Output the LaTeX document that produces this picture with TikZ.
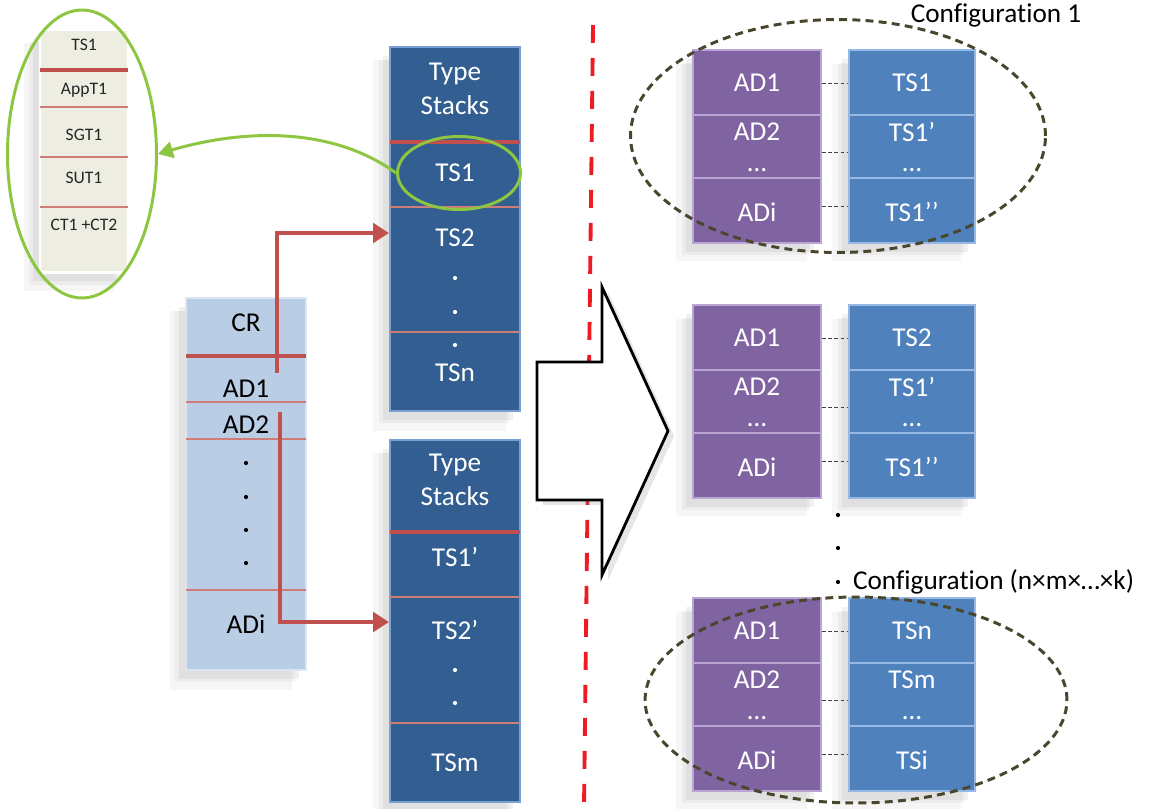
\documentclass[tikz,border=0pt]{standalone}
\usepackage{fontspec}
\setmainfont{Carlito}[Ligatures={TeX,NoCommon}]
\usetikzlibrary{shadows,shapes.geometric,arrows.meta}

\definecolor{paper}{RGB}{238,237,226}
\definecolor{crblue}{RGB}{185,205,229}
\definecolor{tsblue}{RGB}{50,94,145}
\definecolor{tsedge}{RGB}{120,160,210}
\definecolor{stackred}{RGB}{192,80,77}
\definecolor{ringgreen}{RGB}{141,198,65}
\definecolor{adpurple}{RGB}{128,100,162}
\definecolor{adedge}{RGB}{185,165,212}
\definecolor{cfgblue}{RGB}{79,129,189}
\definecolor{cfgedge}{RGB}{150,185,230}
\definecolor{olive}{RGB}{74,69,45}
\definecolor{cutred}{RGB}{237,28,36}

\tikzset{
  stack/.style={rectangle,inner sep=0pt,line width=1.2pt,
    drop shadow={shadow xshift=-.3cm,shadow yshift=-.32cm,shadow scale=1.02,opacity=.07},
    drop shadow={shadow xshift=-.22cm,shadow yshift=-.25cm,opacity=.09},
    drop shadow={shadow xshift=-.14cm,shadow yshift=-.18cm,opacity=.11}},
  lbl/.style={font=\fontsize{15.5}{19}\selectfont,align=center,inner sep=1pt},
  tinylbl/.style={font=\fontsize{10}{12}\selectfont,inner sep=1pt,text=black!85},
  thinrule/.style={stackred!75,line width=.6pt},
  thickrule/.style={stackred,line width=2.4pt},
  link/.style={stackred,line width=2.8pt,-{Triangle[length=9pt,width=11pt]}},
  ring/.style={ellipse,draw=ringgreen,line width=1.7pt,inner sep=0pt},
  cfgring/.style={ellipse,draw=olive,line width=1.7pt,dash pattern=on 4.5pt off 3pt,inner sep=0pt},
  pair/.style={black!75,line width=.5pt,dash pattern=on 2pt off 1.5pt}
}

\begin{document}
\begin{tikzpicture}[x=0.02cm,y=-0.02cm]
  \useasboundingbox (0,0) rectangle (1152,808);
  % red cut line
  \draw[cutred,line width=2.2pt,dash pattern=on .36cm off .3cm] (593,25) -- (584,808);

  % TS1 detail
  \node[stack,fill=paper,draw=white,minimum width=1.76cm,minimum height=4.86cm] (appstack) at (84,151) {};
  \draw[thickrule] (40,70) -- (128,70);
  \draw[thinrule] (40,107) -- (128,107) (40,157) -- (128,157) (40,207) -- (128,207);
  \node[tinylbl] (dts) at (84,45) {TS1};
  \node[tinylbl] (dapp) at (84,90) {AppT1};
  \node[tinylbl] (dsg) at (84,135) {SGT1};
  \node[tinylbl] (dsu) at (84,178) {SUT1};
  \node[tinylbl] (dct) at (84,225) {CT1 +CT2};
  \node[ring,minimum width=2.98cm,minimum height=5.76cm] (appring) at (82,154) {};

  % CR
  \node[stack,fill=crblue,draw=crblue!50!white,minimum width=2.4cm,minimum height=7.44cm] (cr) at (246,484) {};
  \draw[thickrule] (186,356) -- (306,356);
  \draw[thinrule] (186,402) -- (306,402) (186,439) -- (306,439) (186,590) -- (306,590);
  \node[lbl] (crname) at (246,323) {CR};
  \node[lbl] (crad1) at (246,389) {AD1};
  \node[lbl] (crad2) at (246,425) {AD2};
  \node[lbl] (cradi) at (246,624) {ADi};
  \fill (246,463) circle (1.2pt) (246,497) circle (1.2pt) (246,530) circle (1.2pt) (246,563) circle (1.2pt);

  % type stacks
  \node[stack,fill=tsblue,draw=tsedge,minimum width=2.6cm,minimum height=7.28cm] (tsA) at (455,229) {};
  \draw[thickrule] (390,142) -- (520,142);
  \draw[thinrule] (390,207) -- (520,207) (390,332) -- (520,332);
  \node[lbl,white] (tsAhead) at (455,89) {Type\\Stacks};
  \node[lbl,white] (tsA1) at (455,173) {TS1};
  \node[lbl,white] (tsA2) at (455,238) {TS2};
  \node[lbl,white] (tsAn) at (455,373) {TSn};
  \fill[white] (455,278) circle (1.2pt) (455,312) circle (1.2pt) (455,345) circle (1.2pt);
  \node[ring,minimum width=2.46cm,minimum height=1.46cm] (tsring) at (459,173) {};

  \node[stack,fill=tsblue,draw=tsedge,minimum width=2.6cm,minimum height=7.24cm] (tsB) at (455,621) {};
  \draw[thickrule] (390,532) -- (520,532);
  \draw[thinrule] (390,597) -- (520,597) (390,723) -- (520,723);
  \node[lbl,white] (tsBhead) at (455,480) {Type\\Stacks};
  \node[lbl,white] (tsB1) at (455,557) {TS1’};
  \node[lbl,white] (tsB2) at (455,630) {TS2’};
  \node[lbl,white] (tsBm) at (455,763) {TSm};
  \fill[white] (455,670) circle (1.2pt) (455,703) circle (1.2pt);

  % connectors
  \coordinate (crfrom) at (277,373);
  \coordinate (crto) at (280,412);
  \draw[link] (crfrom) |- ([yshift=-.08cm]tsA.west);
  \draw[link] (crto) |- ([yshift=-.02cm]tsB.west);
  \draw[ringgreen,line width=1.7pt,-{Triangle[length=8.5pt,width=9.5pt]}]
    (tsring.west) .. controls (330,125) and (240,130) .. (appring.east);

  % big arrow
  \draw[line width=1.6pt,fill=white,line join=miter,
    drop shadow={shadow xshift=.12cm,shadow yshift=-.1cm,opacity=.2}]
    (537,362) -- (602,362) -- (602,287) -- (668,431) -- (602,575) -- (602,500) -- (537,500) -- cycle;

  % configurations
  \foreach \dy/\ta/\tb/\tc [count=\k] in {0/TS1/TS1’/TS1’’,255/TS2/TS1’/TS1’’,548/TSn/TSm/TSi}{
    \node[stack,fill=adpurple,draw=adedge,minimum width=2.56cm,minimum height=3.86cm] (ad\k) at (757,146.5+\dy) {};
    \node[stack,fill=cfgblue,draw=cfgedge,minimum width=2.52cm,minimum height=3.86cm] (cf\k) at (912,146.5+\dy) {};
    \draw[adedge,line width=.8pt] (693,115+\dy) -- (821,115+\dy) (693,178+\dy) -- (821,178+\dy);
    \draw[cfgedge,line width=.8pt] (849,115+\dy) -- (975,115+\dy) (849,178+\dy) -- (975,178+\dy);
    \node[lbl,white] (adA\k) at (757,83+\dy) {AD1};
    \node[lbl,white] (adB\k) at (757,132+\dy) {AD2};
    \node[lbl,white] (adC\k) at (757,170+\dy) {…};
    \node[lbl,white] (adD\k) at (757,212+\dy) {ADi};
    \node[lbl,white] (cfA\k) at (912,83+\dy) {\ta};
    \node[lbl,white] (cfB\k) at (912,132+\dy) {\tb};
    \node[lbl,white] (cfC\k) at (912,170+\dy) {…};
    \node[lbl,white] (cfD\k) at (912,212+\dy) {\tc};
    \draw[pair] (ad\k.east |- adA\k) -- (cf\k.west |- adA\k);
    \draw[pair] ([yshift=-.11cm]ad\k.east) -- ([yshift=-.11cm]cf\k.west);
    \draw[pair] ([yshift=.12cm]ad\k.east |- adD\k) -- ([yshift=.12cm]cf\k.west |- adD\k);
  }
  \node[cfgring,minimum width=8.3cm,minimum height=4.66cm] (cfgone) at (838,136) {};
  \node[cfgring,minimum width=8.44cm,minimum height=4.12cm] (cfglast) at (856,700) {};
  \node[lbl] (cfgonename) at (996,15) {Configuration 1};
  \fill (838,515) circle (1.2pt) (838,548) circle (1.2pt) (838,582) circle (1.2pt);
  \node[lbl,anchor=west] (cfglastname) at (851,582) {Configuration (n×m×…×k)};
\end{tikzpicture}
\end{document}
